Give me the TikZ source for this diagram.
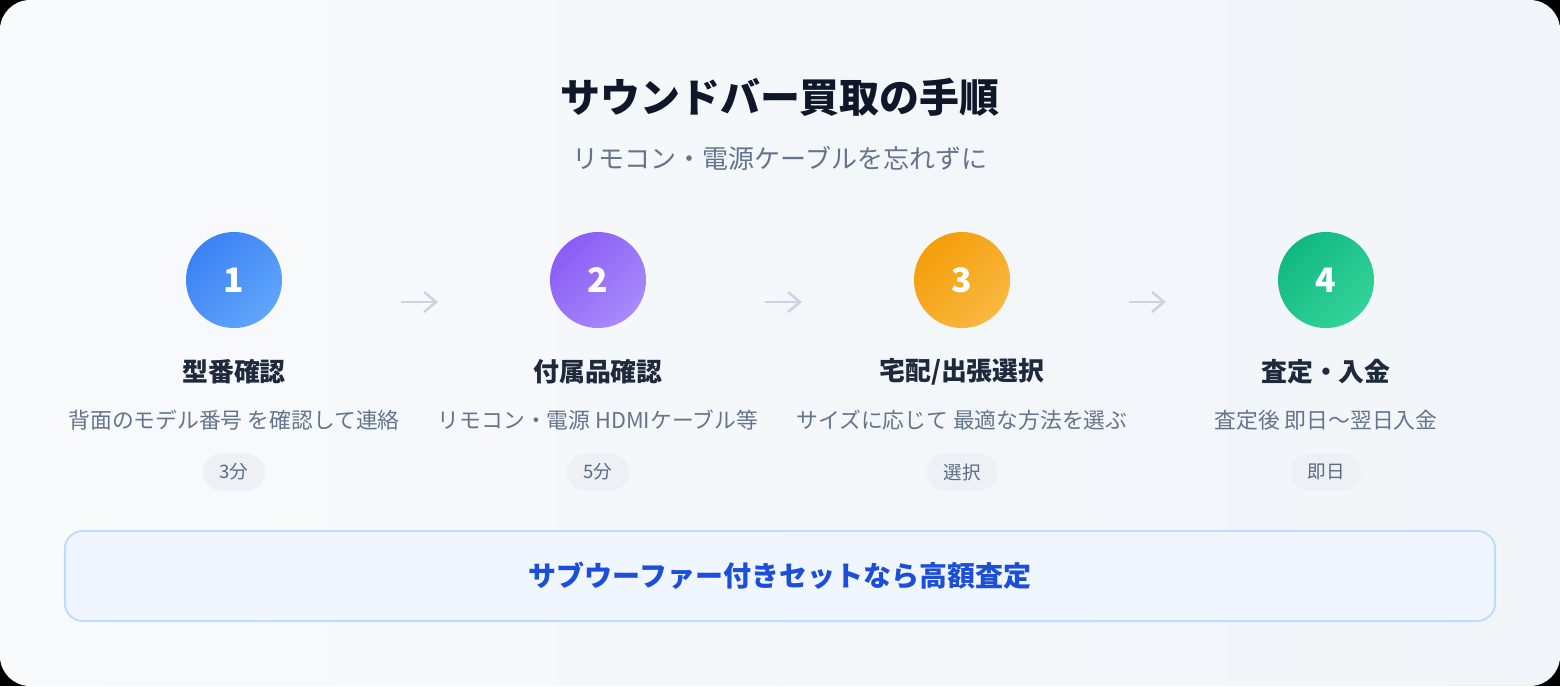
\documentclass[tikz,border=0pt]{standalone}
\usepackage{fontspec}
\setmainfont{Noto Sans CJK JP}
\usetikzlibrary{arrows.meta}
\definecolor{bgA}{HTML}{F8FAFC}
\definecolor{bgB}{HTML}{F1F5F9}
\definecolor{ink}{HTML}{0F172A}
\definecolor{headc}{HTML}{1E293B}
\definecolor{slate}{HTML}{64748B}
\definecolor{pillbg}{HTML}{EDF1F6}
\definecolor{pilltext}{HTML}{5B6B82}
\definecolor{arrowc}{HTML}{CBD5E1}
\definecolor{notebg}{HTML}{EFF6FF}
\definecolor{noteline}{HTML}{BFDBFE}
\definecolor{notetext}{HTML}{1D4ED8}
\definecolor{blueA}{HTML}{3B82F6}
\definecolor{blueB}{HTML}{60A5FA}
\definecolor{purpleA}{HTML}{8B5CF6}
\definecolor{purpleB}{HTML}{A78BFA}
\definecolor{orangeA}{HTML}{F59E0B}
\definecolor{orangeB}{HTML}{F8B840}
\definecolor{greenA}{HTML}{10B981}
\definecolor{greenB}{HTML}{34D399}

\begin{document}
\begin{tikzpicture}[x=0.025cm, y=-0.025cm, node distance=2.3cm]
    \tikzstyle{num} = [circle, minimum size=2.4cm, inner sep=0, text=white, font=\bfseries\fontsize{24pt}{24pt}\selectfont]
    \tikzstyle{head} = [text=headc, font=\bfseries\fontsize{18.4pt}{19pt}\selectfont]
    \tikzstyle{desc} = [text=slate, font=\fontsize{15.5pt}{16pt}\selectfont]
    \tikzstyle{pill} = [fill=pillbg, rounded corners=0.46cm, inner xsep=0.42cm, minimum height=0.92cm, text=pilltext, font=\fontsize{13.2pt}{14pt}\selectfont]
    \tikzstyle{flow} = [draw=arrowc, line width=1.8pt, -{Straight Barb[length=0.3cm, width=0.5cm]}]

    % card
    \fill[black] (0,0) rectangle (1560,686);
    \shade[left color=bgA, right color=bgB, rounded corners=0.75cm] (0,0) rectangle (1560,686);

    \node (title) at (780,97) [text=ink, font=\bfseries\fontsize{28.4pt}{29pt}\selectfont] {サウンドバー買取の手順};
    \node (subtitle) at (780,158) [text=slate, font=\fontsize{18.5pt}{19pt}\selectfont] {リモコン・電源ケーブルを忘れずに};

    \node (s1) at (234,280) [num, left color=blueA, right color=blueB, shading angle=45] {1};
    \node (s2) at (598,280) [num, left color=purpleA, right color=purpleB, shading angle=45] {2};
    \node (s3) at (962,280) [num, left color=orangeA, right color=orangeB, shading angle=45] {3};
    \node (s4) at (1326,280) [num, left color=greenA, right color=greenB, shading angle=45] {4};

    \node (h1) [head, below of=s1] {型番確認};
    \node (h2) [head, below of=s2] {付属品確認};
    \node (h3) [head, below of=s3] {宅配/出張選択};
    \node (h4) [head, below of=s4] {査定・入金};

    \node (d1) [desc, below of=h1, node distance=1.2cm] {背面のモデル番号 を確認して連絡};
    \node (d2) [desc, below of=h2, node distance=1.2cm] {リモコン・電源 HDMIケーブル等};
    \node (d3) [desc, below of=h3, node distance=1.2cm] {サイズに応じて 最適な方法を選ぶ};
    \node (d4) [desc, below of=h4, node distance=1.2cm] {査定後 即日〜翌日入金};

    \node (p1) [pill, below of=d1, node distance=1.3cm] {3分};
    \node (p2) [pill, below of=d2, node distance=1.3cm] {5分};
    \node (p3) [pill, below of=d3, node distance=1.3cm] {選択};
    \node (p4) [pill, below of=d4, node distance=1.3cm] {即日};

    \coordinate (a1) at (401,302); \coordinate (b1) at (438,302);
    \coordinate (a2) at (765,302); \coordinate (b2) at (802,302);
    \coordinate (a3) at (1129,302); \coordinate (b3) at (1166,302);
    \draw [flow] (a1) -- (b1);
    \draw [flow] (a2) -- (b2);
    \draw [flow] (a3) -- (b3);

    \node (note) at (780,576) [draw=noteline, line width=1.4pt, fill=notebg, rounded corners=0.45cm, minimum width=35.75cm, minimum height=2.25cm, text=notetext, font=\bfseries\fontsize{19.9pt}{20pt}\selectfont] {サブウーファー付きセットなら高額査定};
\end{tikzpicture}
\end{document}
